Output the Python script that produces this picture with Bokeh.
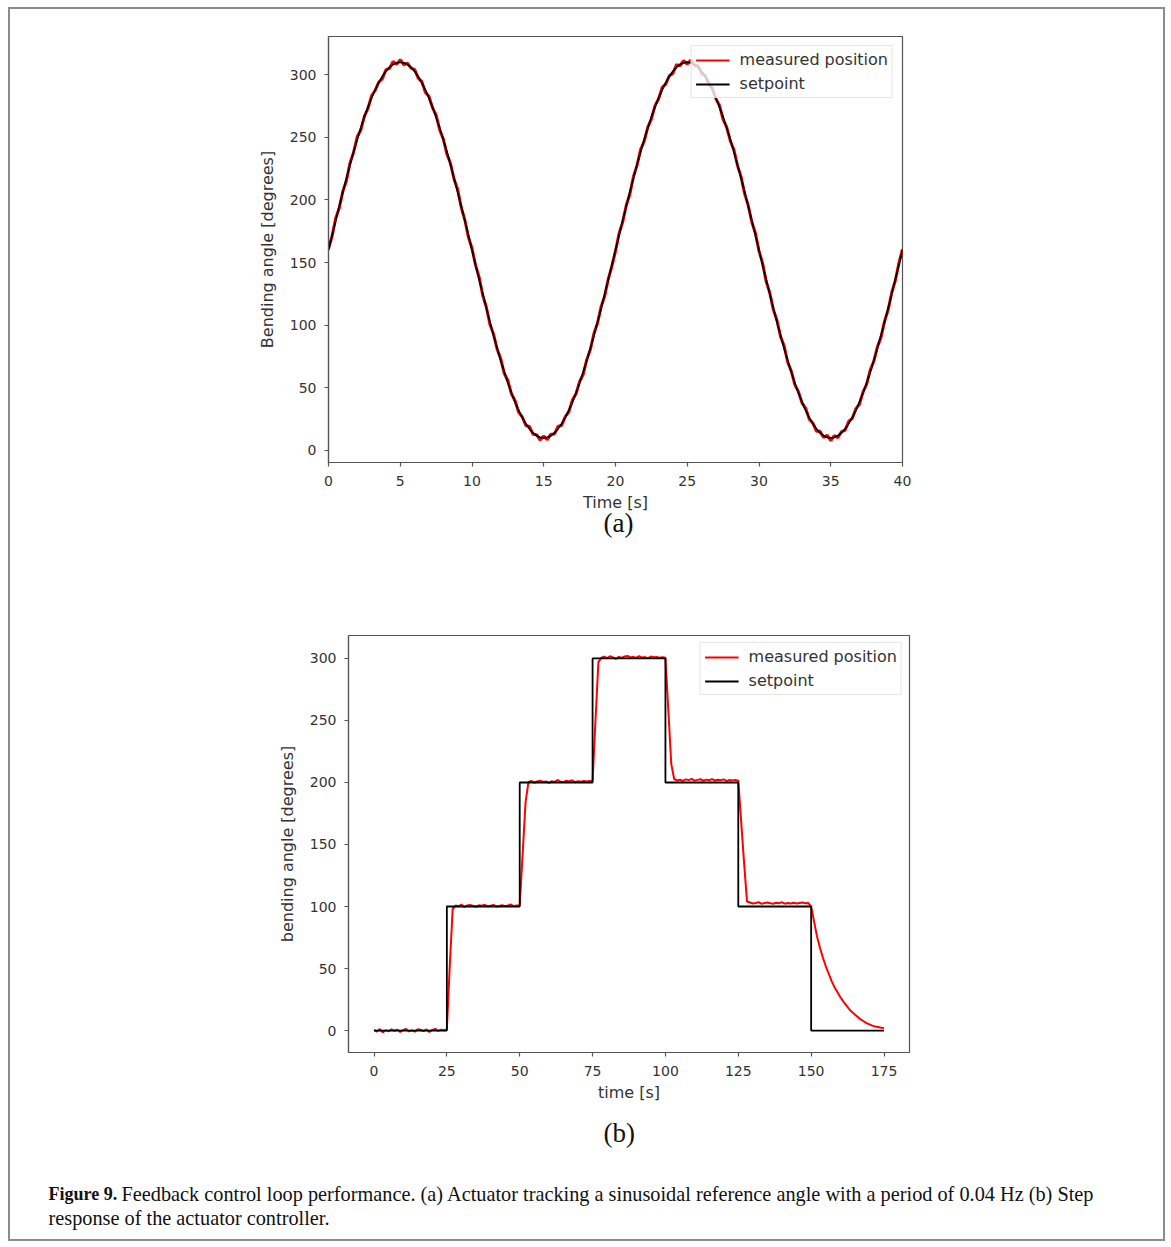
from bokeh.plotting import figure
from bokeh.layouts import column
from bokeh.models import Range1d, FixedTicker, Legend, LegendItem, Title
from bokeh.core.properties import value
from bokeh.embed import file_html
from bokeh.resources import INLINE

# ---------------- data: panel (a) sinusoid tracking (0.25 s samples) ----------------
time_a = [i * 0.25 for i in range(161)]
setpoint_a = [
    160.0, 171.8, 183.5, 195.0, 206.4, 217.4, 228.1, 238.4, 248.2, 257.4,
    266.1, 274.1, 281.4, 287.9, 293.7, 298.6, 302.7, 305.9, 308.2, 309.5,
    310.0, 309.5, 308.2, 305.9, 302.7, 298.6, 293.7, 287.9, 281.4, 274.1,
    266.1, 257.4, 248.2, 238.4, 228.1, 217.4, 206.4, 195.0, 183.5, 171.8,
    160.0, 148.2, 136.5, 125.0, 113.6, 102.6, 91.9, 81.6, 71.8, 62.6,
    53.9, 45.9, 38.6, 32.1, 26.3, 21.4, 17.3, 14.1, 11.8, 10.5,
    10.0, 10.5, 11.8, 14.1, 17.3, 21.4, 26.3, 32.1, 38.6, 45.9,
    53.9, 62.6, 71.8, 81.6, 91.9, 102.6, 113.6, 125.0, 136.5, 148.2,
    160.0, 171.8, 183.5, 195.0, 206.4, 217.4, 228.1, 238.4, 248.2, 257.4,
    266.1, 274.1, 281.4, 287.9, 293.7, 298.6, 302.7, 305.9, 308.2, 309.5,
    310.0, 309.5, 308.2, 305.9, 302.7, 298.6, 293.7, 287.9, 281.4, 274.1,
    266.1, 257.4, 248.2, 238.4, 228.1, 217.4, 206.4, 195.0, 183.5, 171.8,
    160.0, 148.2, 136.5, 125.0, 113.6, 102.6, 91.9, 81.6, 71.8, 62.6,
    53.9, 45.9, 38.6, 32.1, 26.3, 21.4, 17.3, 14.1, 11.8, 10.5,
    10.0, 10.5, 11.8, 14.1, 17.3, 21.4, 26.3, 32.1, 38.6, 45.9,
    53.9, 62.6, 71.8, 81.6, 91.9, 102.6, 113.6, 125.0, 136.5, 148.2,
    160.0]
measured_a = [
    161.2, 171.0, 185.4, 193.6, 207.0, 215.3, 229.6, 238.1, 250.4, 255.7,
    267.0, 273.0, 283.2, 287.4, 294.1, 296.7, 304.0, 305.0, 310.6, 308.3,
    312.0, 307.9, 309.3, 305.2, 304.3, 297.3, 294.5, 285.9, 282.8, 273.5,
    267.8, 255.9, 248.7, 236.6, 229.3, 216.5, 208.5, 194.0, 184.2, 170.2,
    161.4, 147.8, 138.3, 123.7, 114.5, 100.6, 93.0, 80.9, 73.4, 61.4,
    55.9, 45.1, 39.9, 30.4, 26.9, 19.9, 19.2, 13.0, 12.6, 8.3,
    11.5, 8.7, 13.0, 13.2, 19.4, 20.0, 27.0, 30.9, 40.4, 45.3,
    55.2, 60.7, 72.7, 80.6, 93.6, 101.8, 115.0, 123.4, 137.1, 147.1,
    159.1, 173.4, 182.3, 195.8, 204.5, 218.7, 227.6, 240.4, 246.8, 258.1,
    264.5, 275.3, 280.6, 289.8, 292.4, 299.2, 301.0, 308.0, 307.2, 311.3,
    308.5, 311.8, 307.3, 307.3, 300.9, 299.5, 292.5, 289.5, 280.7, 275.4,
    264.1, 258.2, 247.1, 240.3, 227.5, 218.6, 204.9, 195.7, 182.2, 173.6,
    159.2, 149.6, 134.8, 125.9, 112.4, 104.2, 91.0, 83.6, 70.4, 63.4,
    52.3, 47.0, 37.9, 33.9, 25.0, 22.0, 15.4, 15.3, 10.3, 12.2,
    7.9, 11.9, 10.2, 15.1, 16.1, 23.3, 25.5, 33.4, 36.9, 46.8,
    52.8, 64.2, 71.2, 82.8, 90.1, 103.3, 112.2, 126.1, 135.6, 149.7,
    160.8]

# ---------------- data: panel (b) step response (1 s samples) ----------------
setpoint_b_t = [0, 25, 25, 50, 50, 75, 75, 100, 100, 125, 125, 150, 150, 175]
setpoint_b_y = [0, 0, 100, 100, 200, 200, 300, 300, 200, 200, 100, 100, 0, 0]

time_b = list(range(176))
measured_b = (
    [0.5, -0.8, 1.2, -1.5, 0.3, -0.6, 1.0, -0.2, 0.8, -1.1, 0.4, 1.3, -0.7, 0.2, -0.9,
     1.1, 0.6, -0.4, 0.9, -1.2, 0.5, 1.4, -0.3, 0.7, 0.2]
    + [0.8, 52.0, 98.0]
    + [100.8, 100.2, 101.5, 99.6, 100.9, 101.2, 100.4, 99.8, 101.0, 100.6, 101.4, 100.1,
       100.7, 101.3, 99.9, 100.5, 101.1, 100.3, 100.9, 101.6, 100.2, 100.8]
    + [101.0, 142.0, 184.0]
    + [200.2, 201.3, 199.8, 200.9, 201.5, 200.4, 200.8, 199.6, 201.1, 200.5, 202.0, 200.7,
       200.3, 201.4, 200.9, 201.8, 200.2, 201.0, 200.6, 201.3, 200.8, 201.2]
    + [201.0, 250.0, 297.0]
    + [300.6, 301.4, 300.2, 301.8, 300.9, 299.7, 301.2, 300.5, 301.6, 302.0, 300.8, 301.3,
       300.4, 301.9, 300.7, 301.1, 300.3, 301.5, 300.9, 301.2, 300.6, 301.0]
    + [300.5, 258.0, 215.0]
    + [202.8, 201.6, 202.2, 201.3, 202.5, 201.9, 202.9, 201.5, 202.1, 202.6, 201.4, 202.3,
       201.8, 202.7, 201.6, 202.2, 201.9, 202.5, 201.3, 202.0, 201.7, 202.1]
    + [201.5, 168.0, 135.0, 104.0]
    + [103.2, 102.4, 102.9, 103.5, 102.1, 102.8, 103.3, 102.6, 102.2, 103.0, 102.7, 103.4,
       102.3, 102.9, 102.5, 103.1, 102.4, 102.8, 103.2, 102.6, 102.9]
    + [100.0, 88.0, 76.0, 67.0, 59.0, 52.0, 46.0, 40.0, 35.0, 31.0, 27.0, 23.5, 20.5,
       17.5, 15.0, 13.0, 11.0, 9.0, 7.5, 6.0, 5.0, 4.0, 3.2, 2.8, 2.3, 2.0]
)

ticks_a_x = [0, 5, 10, 15, 20, 25, 30, 35, 40]
ticks_b_x = [0, 25, 50, 75, 100, 125, 150, 175]
ticks_y = [0, 50, 100, 150, 200, 250, 300]

caption_bold = "Figure 9."
caption_line1 = ("Feedback control loop performance. (a) Actuator tracking a sinusoidal "
                 "reference angle with a period of 0.04  Hz (b) Step")
caption_line2 = "response of the actuator controller."

W = 1153
SPINE = "#555555"
TXT = "#333333"
RED = "#ff0000"


def style(p, xticks, yticks, xlabel, ylabel):
    p.grid.visible = False
    p.xaxis.ticker = FixedTicker(ticks=xticks)
    p.yaxis.ticker = FixedTicker(ticks=yticks)
    p.xaxis.axis_label = xlabel
    p.yaxis.axis_label = ylabel
    for ax in (p.xaxis[0], p.yaxis[0]):
        ax.axis_line_color = SPINE
        ax.axis_line_width = 1.2
        ax.major_tick_line_color = SPINE
        ax.major_tick_line_width = 1.2
        ax.major_tick_out = 4
        ax.major_tick_in = 0
        ax.minor_tick_line_color = None
        ax.major_label_text_font = "DejaVu Sans"
        ax.major_label_text_font_size = "14px"
        ax.major_label_text_color = TXT
        ax.axis_label_text_font = "DejaVu Sans"
        ax.axis_label_text_font_size = "16px"
        ax.axis_label_text_font_style = "normal"
        ax.axis_label_text_color = TXT
    p.xaxis.major_label_standoff = 9
    p.yaxis.major_label_standoff = 8
    p.xaxis.axis_label_standoff = 4
    p.yaxis.axis_label_standoff = 10


def add_legend(p, r_meas, r_set, margin):
    leg = Legend(items=[LegendItem(label="measured position", renderers=[r_meas]),
                        LegendItem(label="setpoint", renderers=[r_set])],
                 location="top_right")
    leg.label_text_font = "DejaVu Sans"
    leg.label_text_font_size = "16px"
    leg.label_text_color = TXT
    leg.glyph_width = 34
    leg.glyph_height = 16
    leg.label_height = 16
    leg.spacing = 5
    leg.padding = 4
    leg.margin = margin
    leg.label_standoff = 10
    leg.border_line_color = "#cccccc"
    leg.border_line_width = 1
    leg.background_fill_alpha = 0.8
    p.add_layout(leg)


def add_tag(p, tag, standoff, offset):
    p.add_layout(Title(text=tag, align="left", text_font="Liberation Serif",
                       text_font_size="27px", text_font_style="normal",
                       text_color="#111111", standoff=standoff, offset=offset), "below")


# ---------------- panel (a) ----------------
pa = figure(width=W, height=591, x_range=Range1d(0, 40), y_range=Range1d(-9.6, 330.5),
            min_border_left=318, min_border_right=261, min_border_top=27, min_border_bottom=138,
            output_backend="svg", toolbar_location=None, outline_line_color=SPINE,
            outline_line_width=1.2)
pa.frame_align = False
pa.line(time_a, measured_a, line_color=RED, line_width=3)
ra_s = pa.line(time_a, setpoint_a, line_color="#000000", line_width=1.8)
# thinner red stroke used only for the legend swatch (kept outside the visible x range)
ra_leg = pa.line([-20, -19], [0, 0], line_color=RED, line_width=2)
style(pa, ticks_a_x, ticks_y, "Time [s]", "Bending angle [degrees]")
add_legend(pa, ra_leg, ra_s, 9)
add_tag(pa, "(a)", -17, 275)

# ---------------- panel (b) ----------------
pb = figure(width=W, height=560, x_range=Range1d(-8.75, 183.75), y_range=Range1d(-17.7, 318.5),
            min_border_left=338, min_border_right=254, min_border_top=35, min_border_bottom=108,
            output_backend="svg", toolbar_location=None, outline_line_color=SPINE,
            outline_line_width=1.2)
pb.frame_align = False
rb_m = pb.line(time_b, measured_b, line_color=RED, line_width=2)
rb_s = pb.line(setpoint_b_t, setpoint_b_y, line_color="#000000", line_width=1.8)
style(pb, ticks_b_x, ticks_y, "time [s]", "bending angle [degrees]")
add_legend(pb, rb_m, rb_s, 7)
add_tag(pb, "(b)", 23, 255)

# ---------------- caption ----------------
CH = 79
cap = figure(width=W, height=CH, x_range=Range1d(0, W), y_range=Range1d(CH, 0),
             min_border=0, output_backend="svg", toolbar_location=None,
             outline_line_color=None, x_axis_type=None, y_axis_type=None)
cap.frame_align = False
cap.grid.visible = False
cap.text(x=[38], y=[33], text=[caption_bold], text_font=value("Liberation Serif"),
         text_font_size="18px", text_font_style="bold", text_align="left",
         text_baseline="middle", text_color="#111111")
cap.text(x=[111, 38], y=[33, 57], text=[caption_line1, caption_line2],
         text_font=value("Liberation Serif"), text_font_size="20.3px",
         text_align="left", text_baseline="middle", text_color="#111111")

layout = column(pa, pb, cap, margin=(7, 0, 0, 8),
                styles={"border": "2px solid #8c8c8c"})

open("out.html", "w").write(file_html(layout, INLINE))
